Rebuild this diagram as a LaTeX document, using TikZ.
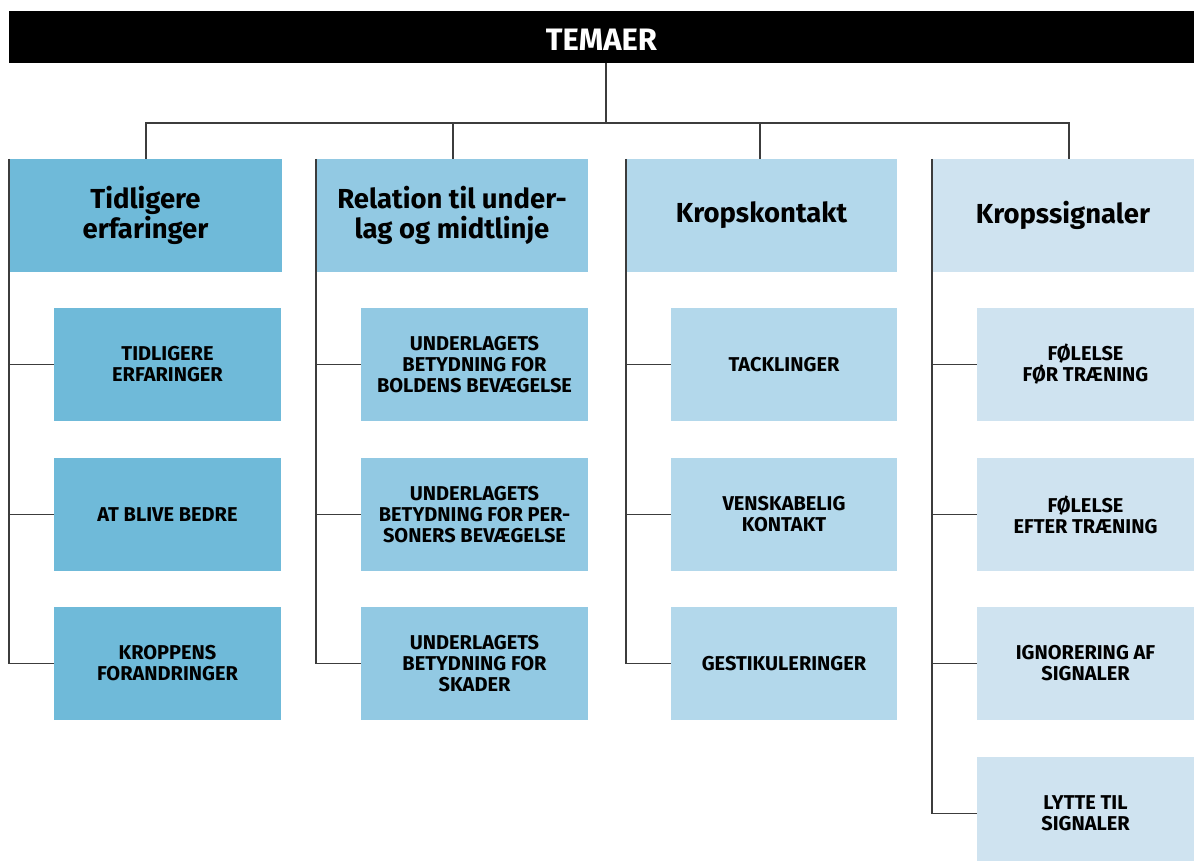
\documentclass[tikz,border=0pt]{standalone}
\usepackage{fontspec}
\setmainfont{Fira Sans}
\definecolor{cA}{HTML}{6FBAD9}
\definecolor{cB}{HTML}{92C9E3}
\definecolor{cC}{HTML}{B3D8EB}
\definecolor{cD}{HTML}{CFE3F0}
\definecolor{lineC}{HTML}{3C3C3C}
\tikzset{
  titlebox/.style={fill=black,text=white,font=\fontsize{31}{34}\selectfont\bfseries,minimum height=52pt,inner sep=0pt,text height=27pt,text depth=0pt},
  headbox/.style={minimum height=113pt,inner sep=0pt,align=center,font=\fontsize{27.5}{30}\selectfont\bfseries},
  childbox/.style={minimum height=113pt,inner sep=0pt,align=center,font=\fontsize{20}{21}\selectfont\bfseries},
  conn/.style={draw=lineC,line width=1.4pt},
}
\begin{document}
\begin{tikzpicture}[x=1pt,y=-1pt]
\useasboundingbox (0,0) rectangle (1194,861);
% title
\node[titlebox,minimum width=1185pt] (title) at (601.5,37) {TEMAER};
% headers
\node[headbox,fill=cA,minimum width=273pt] (h1) at (145.5,215.5) {Tidligere\\erfaringer};
\node[headbox,fill=cB,minimum width=272pt] (h2) at (452,215.5) {Relation til under-\\lag og midtlinje};
\node[headbox,fill=cC,minimum width=271pt] (h3) at (761.5,215.5) {Kropskontakt};
\node[headbox,fill=cD,minimum width=262pt] (h4) at (1063,215.5) {Kropssignaler};
% column 1
\node[childbox,fill=cA,minimum width=227pt] (a1) at (167.5,364.5) {TIDLIGERE\\ERFARINGER};
\node[childbox,fill=cA,minimum width=227pt] (a2) at (167.5,514.5) {AT BLIVE BEDRE};
\node[childbox,fill=cA,minimum width=227pt] (a3) at (167.5,663.5) {KROPPENS\\FORANDRINGER};
% column 2
\node[childbox,fill=cB,minimum width=227pt] (b1) at (474.5,364.5) {UNDERLAGETS\\BETYDNING FOR\\BOLDENS BEVÆGELSE};
\node[childbox,fill=cB,minimum width=227pt] (b2) at (474.5,514.5) {UNDERLAGETS\\BETYDNING FOR PER-\\SONERS BEVÆGELSE};
\node[childbox,fill=cB,minimum width=227pt] (b3) at (474.5,663.5) {UNDERLAGETS\\BETYDNING FOR\\SKADER};
% column 3
\node[childbox,fill=cC,minimum width=226pt] (k1) at (784,364.5) {TACKLINGER};
\node[childbox,fill=cC,minimum width=226pt] (k2) at (784,514.5) {VENSKABELIG\\KONTAKT};
\node[childbox,fill=cC,minimum width=226pt] (k3) at (784,663.5) {GESTIKULERINGER};
% column 4
\node[childbox,fill=cD,minimum width=217pt] (s1) at (1085.5,364.5) {FØLELSE\\FØR TRÆNING};
\node[childbox,fill=cD,minimum width=217pt] (s2) at (1085.5,514.5) {FØLELSE\\EFTER TRÆNING};
\node[childbox,fill=cD,minimum width=217pt] (s3) at (1085.5,663.5) {IGNORERING AF\\SIGNALER};
\node[childbox,fill=cD,minimum width=217pt] (s4) at (1085.5,813.5) {LYTTE TIL\\SIGNALER};
% connectors: tree top
\coordinate (bus) at (606,123);
\coordinate (d1) at (146,159);
\coordinate (d2) at (453,159);
\coordinate (d3) at (760,159);
\coordinate (d4) at (1069,159);
\draw[conn] (title.south -| bus) -- (bus);
\draw[conn] (d1) |- (bus -| d4) -- (d4);
\draw[conn] (d2) -- (d2 |- bus);
\draw[conn] (d3) -- (d3 |- bus);
% column spines
\draw[conn] (h1.north west) |- (a3.west);
\draw[conn] (a1.west) -- (a1.west -| h1.west);
\draw[conn] (a2.west) -- (a2.west -| h1.west);
\draw[conn] (h2.north west) |- (b3.west);
\draw[conn] (b1.west) -- (b1.west -| h2.west);
\draw[conn] (b2.west) -- (b2.west -| h2.west);
\draw[conn] (h3.north west) |- (k3.west);
\draw[conn] (k1.west) -- (k1.west -| h3.west);
\draw[conn] (k2.west) -- (k2.west -| h3.west);
\draw[conn] (h4.north west) |- (s4.west);
\draw[conn] (s1.west) -- (s1.west -| h4.west);
\draw[conn] (s2.west) -- (s2.west -| h4.west);
\draw[conn] (s3.west) -- (s3.west -| h4.west);
\end{tikzpicture}
\end{document}
